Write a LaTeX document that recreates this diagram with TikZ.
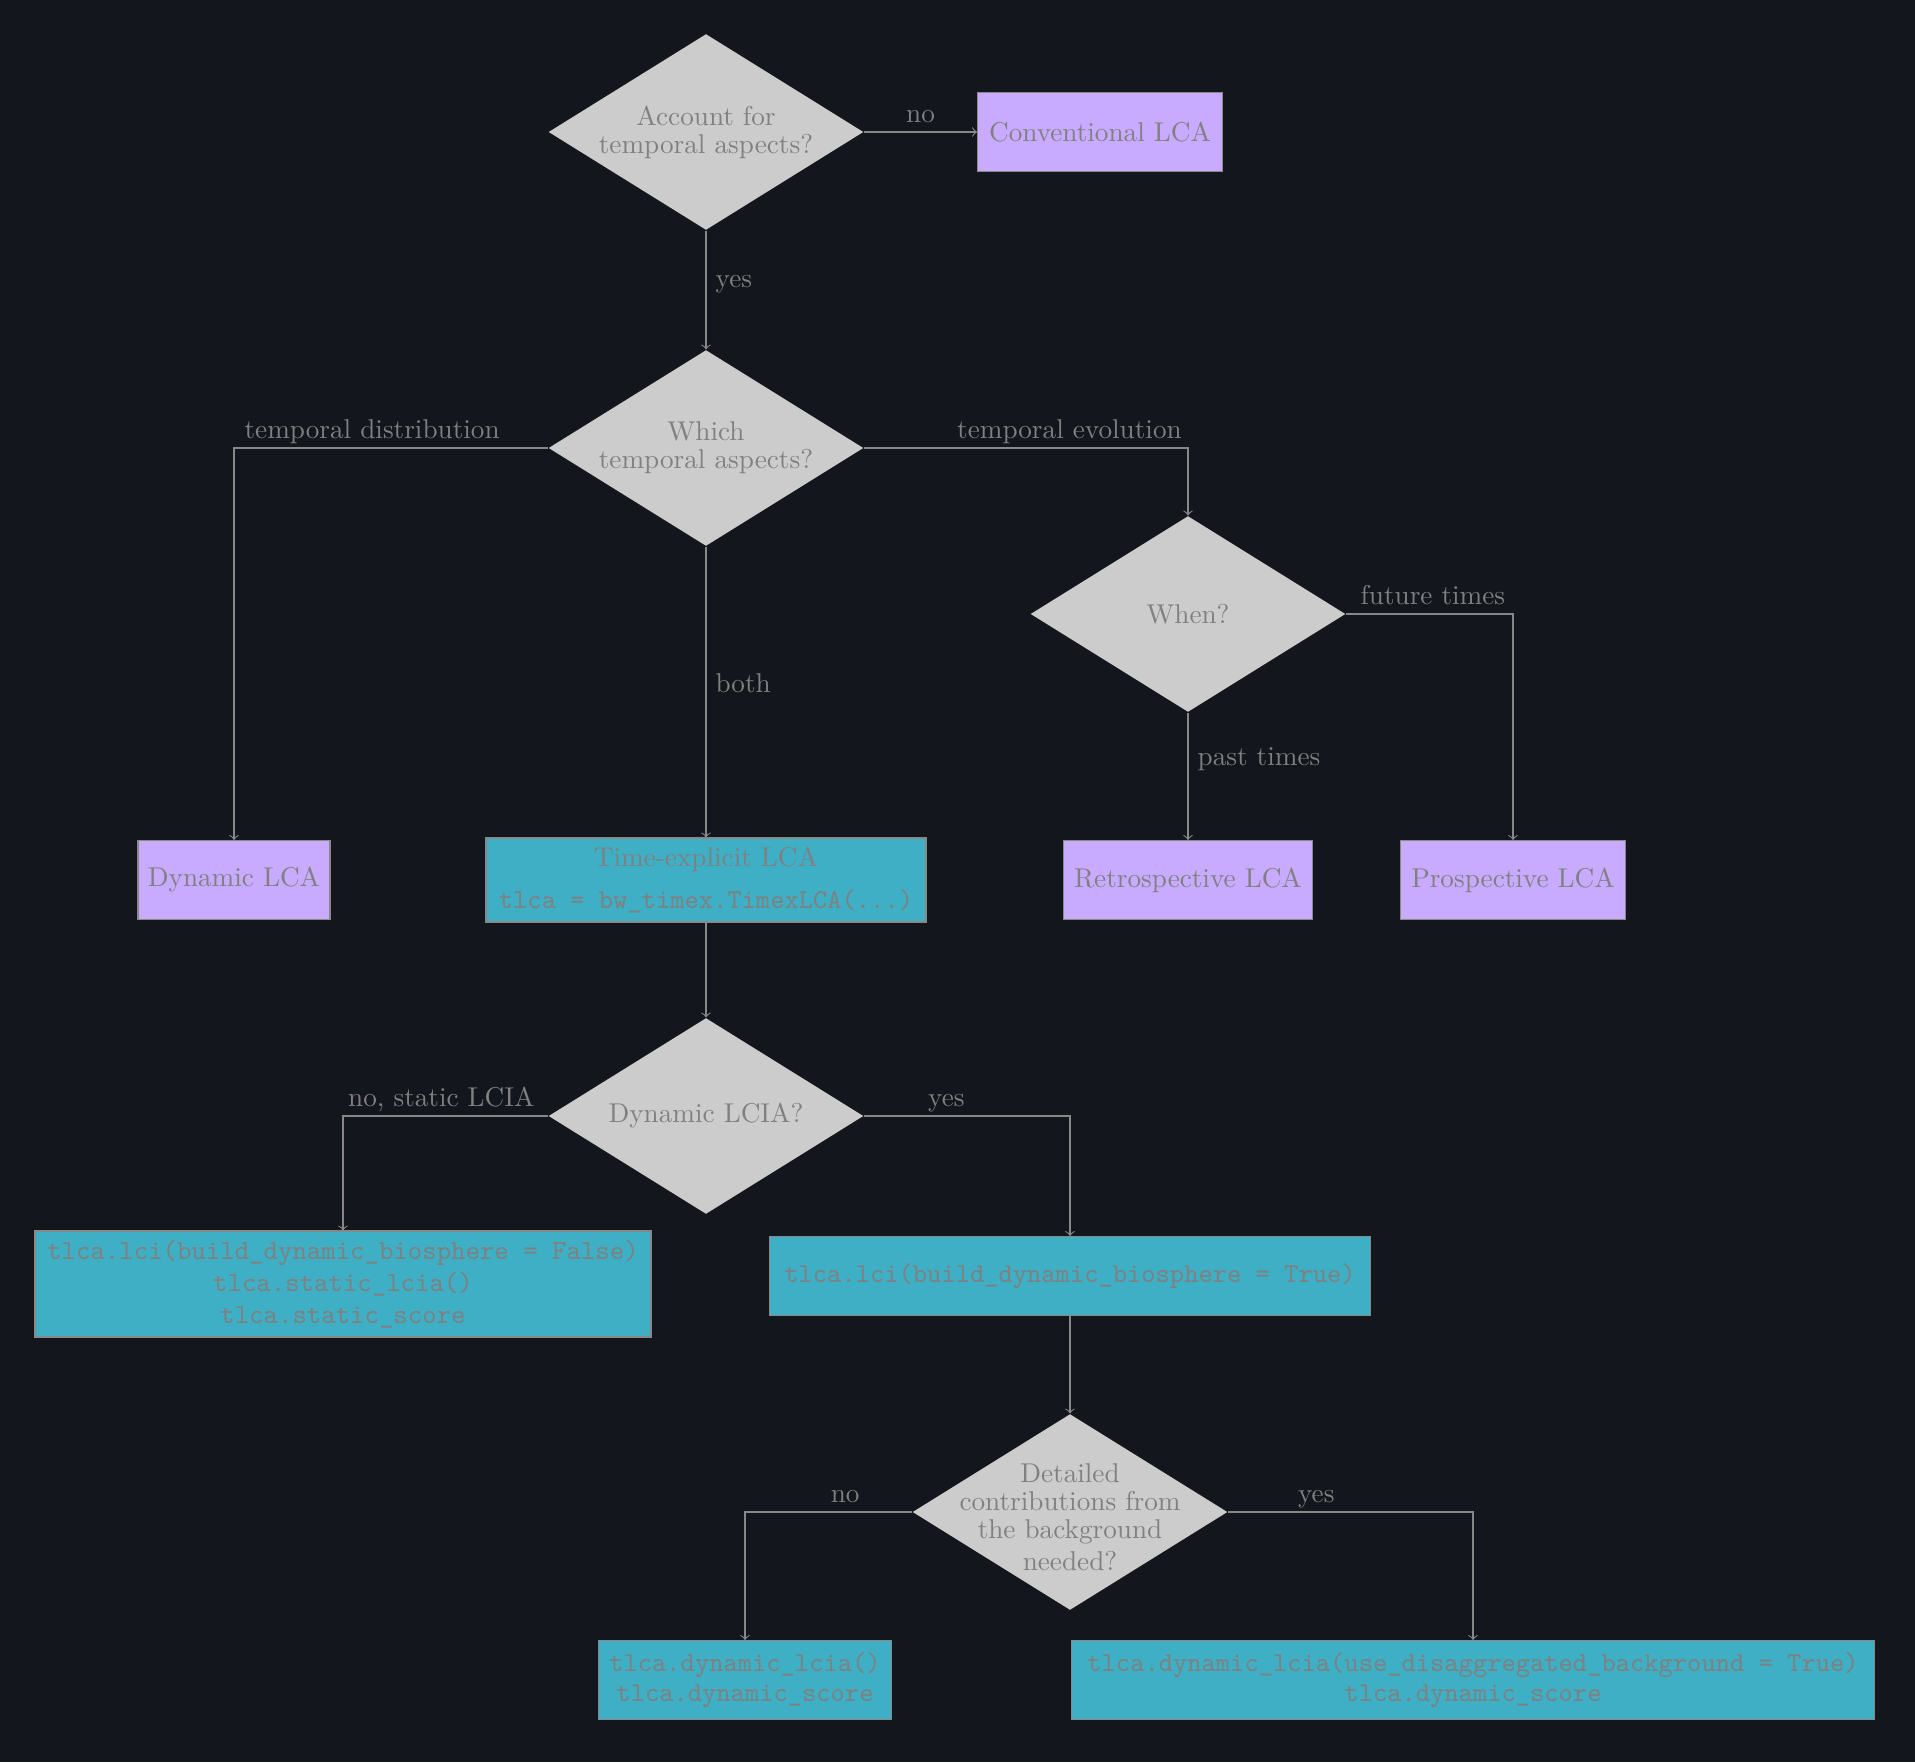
\documentclass[tikz,border=0pt]{standalone}
\usetikzlibrary{shapes.geometric}
\definecolor{bgdark}{RGB}{19,23,29}
\definecolor{txtgray}{RGB}{128,128,128}
\definecolor{linegray}{RGB}{136,136,136}
\definecolor{diafill}{RGB}{204,204,204}
\definecolor{lilac}{RGB}{200,170,255}
\definecolor{codeteal}{RGB}{62,175,196}
\tikzset{
  boxwh/.style 2 args={minimum width=#1*0.3676pt, minimum height=#2*0.3676pt},
  dia/.style={diamond, fill=diafill, draw=none, inner sep=0pt, boxwh={315}{196}},
  dtext/.style={text=txtgray, align=center, font=\fontsize{10}{10.3}\selectfont},
  lilacbox/.style={rectangle, draw=linegray, fill=lilac, text=txtgray, inner sep=0pt, align=center},
  tealbox/.style={rectangle, draw=linegray, fill=codeteal, text=txtgray, inner sep=0pt, align=center,
    font=\fontsize{10}{11.2}\selectfont},
  flow/.style={draw=linegray, ->},
  lbl/.style={text=txtgray, font=\fontsize{10}{12}\selectfont},
  lblup/.style={lbl, above, inner sep=1.2pt, text depth=1.94pt}
}
\begin{document}
\begin{tikzpicture}[x=0.3676pt, y=-0.3676pt]
  % canvas
  \fill[bgdark] (0,0) rectangle (1915,1762);
  \useasboundingbox (0,0) rectangle (1915,1762);

  % decisions
  \node[dia] (d1) at (706,132) {};
  \node[dtext] (d1t) at (d1) {Account for\\temporal aspects?};
  \node[dia] (d2) at (706,448) {};
  \node[dtext] (d2t) at (d2) {Which\\temporal aspects?};
  \node[dia] (when) at (1188,614) {};
  \node[dtext] (whent) at (when) {When?};
  \node[dia] (d3) at (706,1116) {};
  \node[dtext] (d3t) at (d3) {Dynamic LCIA?};
  \node[dia] (d4) at (1070,1512) {};
  \node[dtext] (d4t) at ([yshift=-2pt]d4.center) {Detailed\\contributions from\\the background\\[1.3pt]needed?};

  % outcomes
  \node[lilacbox, boxwh={245}{79}] (conv) at (1100,132) {Conventional LCA};
  \node[lilacbox, boxwh={192}{79}] (dyn) at (234,880) {Dynamic LCA};
  \node[lilacbox, boxwh={249}{79}] (retro) at (1188,880) {Retrospective LCA};
  \node[lilacbox, boxwh={225}{79}] (pros) at (1513,880) {Prospective LCA};

  % code steps
  \node[tealbox, boxwh={440}{84}] (tex) at (706,880)
    {Time-explicit LCA\\[4.5pt]\texttt{tlca = bw\_timex.TimexLCA(...)}};
  \node[tealbox, boxwh={616}{106}, font=\fontsize{10.1}{11.8}\selectfont] (static) at (343,1284)
    {\texttt{tlca.lci(build\_dynamic\_biosphere = False)}\\
     \texttt{tlca.static\_lcia()}\\
     \texttt{tlca.static\_score}};
  \node[tealbox, boxwh={601}{79}] (lcitrue) at (1070,1276)
    {\texttt{tlca.lci(build\_dynamic\_biosphere = True)}};
  \node[tealbox, boxwh={293}{79}] (dlcia) at (745,1680)
    {\texttt{tlca.dynamic\_lcia()}\\\texttt{tlca.dynamic\_score}};
  \node[tealbox, boxwh={803}{79}] (disagg) at (1473,1680)
    {\texttt{tlca.dynamic\_lcia(use\_disaggregated\_background = True)}\\\texttt{tlca.dynamic\_score}};

  % connectors
  \draw[flow] (d1.east) -- node[lblup] {no} (conv.west);
  \draw[flow] (d1.south) -- node[lbl, right, pos=0.45] {yes} (d2.north);
  \draw[flow] (d2.west) -| node[lblup, pos=0.28] {temporal distribution} (dyn.north);
  \draw[flow] (d2.east) -| node[lblup, pos=0.317] {temporal evolution} (when.north);
  \draw[flow] (d2.south) -- node[lbl, right, pos=0.47] {both} (tex.north);
  \draw[flow] (when.south) -- node[lbl, right, pos=0.37] {past times} (retro.north);
  \draw[flow] (when.east) -| node[lblup, pos=0.26] {future times} (pros.north);
  \draw[flow] (tex.south) -- (d3.north);
  \draw[flow] (d3.west) -| node[lblup, pos=0.26] {no, static LCIA} (static.north);
  \draw[flow] (d3.east) -| node[lblup, pos=0.2] {yes} (lcitrue.north);
  \draw[flow] (lcitrue.south) -- (d4.north);
  \draw[flow] (d4.west) -| node[lblup, pos=0.2] {no} (dlcia.north);
  \draw[flow] (d4.east) -| node[lblup, pos=0.18] {yes} (disagg.north);
\end{tikzpicture}
\end{document}
